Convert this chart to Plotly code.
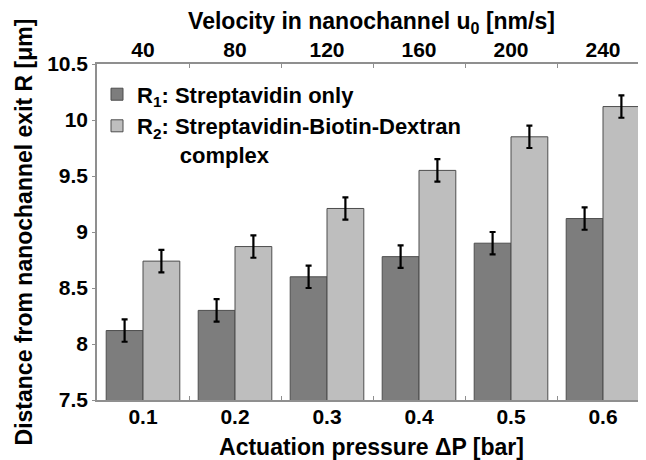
import plotly.graph_objects as go

pressure_labels = ["0.1", "0.2", "0.3", "0.4", "0.5", "0.6"]
velocity_labels = ["40", "80", "120", "160", "200", "240"]
r1_values = [8.12, 8.30, 8.60, 8.78, 8.90, 9.12]
r1_errors = [0.1, 0.1, 0.1, 0.1, 0.1, 0.1]
r2_values = [8.74, 8.87, 9.21, 9.55, 9.85, 10.12]
r2_errors = [0.1, 0.1, 0.1, 0.1, 0.1, 0.1]
y_ticks = [7.5, 8, 8.5, 9, 9.5, 10, 10.5]
y_tick_labels = ["7.5", "8", "8.5", "9", "9.5", "10", "10.5"]

positions = list(range(1, len(pressure_labels) + 1))
boundaries = [p + 0.5 for p in positions[:-1]]

FONT = "Liberation Sans, Arial, sans-serif"
tickf = dict(family=FONT, size=21, color="black", weight="bold")
titlef = dict(family=FONT, size=23, color="black", weight="bold")
legf = dict(family=FONT, size=22, color="black", weight="bold")
AX = "#8f8f8f"

fig = go.Figure()
fig.add_trace(go.Bar(
    x=positions, y=r1_values, name="R<sub>1</sub>: Streptavidin only",
    marker=dict(color="#7d7d7d", line=dict(color="#4d4d4d", width=1)),
    error_y=dict(type="data", array=r1_errors, color="black", thickness=2.2, width=3),
))
fig.add_trace(go.Bar(
    x=positions, y=r2_values,
    name="R<sub>2</sub>: Streptavidin-Biotin-Dextran<br>" + "&nbsp;" * 7 + "complex",
    marker=dict(color="#bebebe", line=dict(color="#4d4d4d", width=1)),
    error_y=dict(type="data", array=r2_errors, color="black", thickness=2.2, width=3),
))
# invisible trace to activate top axis
fig.add_trace(go.Scatter(x=positions, y=r1_values, xaxis="x2", mode="markers",
                         marker=dict(opacity=0), showlegend=False, hoverinfo="skip"))

xr = [0.5, 0.5 + 549 / 92]
fig.update_layout(
    width=638, height=452,
    margin=dict(l=89, r=0, t=56, b=60),
    paper_bgcolor="white", plot_bgcolor="white",
    barmode="group", bargap=0.2, bargroupgap=0,
    font=tickf,
    showlegend=True,
    legend=dict(x=0.0, y=0.972, xanchor="left", yanchor="top", valign="top",
                bgcolor="rgba(0,0,0,0)", font=legf,
                itemwidth=30, tracegroupgap=0),
    xaxis=dict(
        range=xr, tickmode="array", tickvals=positions, ticktext=pressure_labels,
        ticks="", showline=True, linecolor=AX, linewidth=1.5,
        showgrid=False, zeroline=False, tickfont=tickf, ticklabelstandoff=-3,
        minor=dict(tickmode="array", tickvals=boundaries, ticks="inside", ticklen=4,
                   tickcolor=AX, showgrid=False),
        title=dict(text="Actuation pressure ΔP [bar]", font=titlef, standoff=16),
    ),
    xaxis2=dict(
        range=xr, overlaying="x", side="top", anchor="y",
        tickmode="array", tickvals=positions, ticktext=velocity_labels,
        ticks="", showline=True, linecolor=AX, linewidth=1.5,
        showgrid=False, zeroline=False, tickfont=tickf, ticklabelstandoff=-3,
        minor=dict(tickmode="array", tickvals=boundaries, ticks="inside", ticklen=4,
                   tickcolor=AX, showgrid=False),
        title=dict(text="Velocity in nanochannel u<sub>0</sub> [nm/s]", font=titlef, standoff=5),
    ),
    yaxis=dict(
        range=[7.5, 10.5], tickmode="array", tickvals=y_ticks, ticktext=y_tick_labels,
        ticks="outside", ticklen=3, tickcolor=AX,
        showline=True, linecolor=AX, linewidth=1.5,
        showgrid=False, zeroline=False, tickfont=tickf,
        title=dict(text="Distance from nanochannel exit R [μm]", font=titlef, standoff=8),
    ),
)

fig.write_html("out.html")
